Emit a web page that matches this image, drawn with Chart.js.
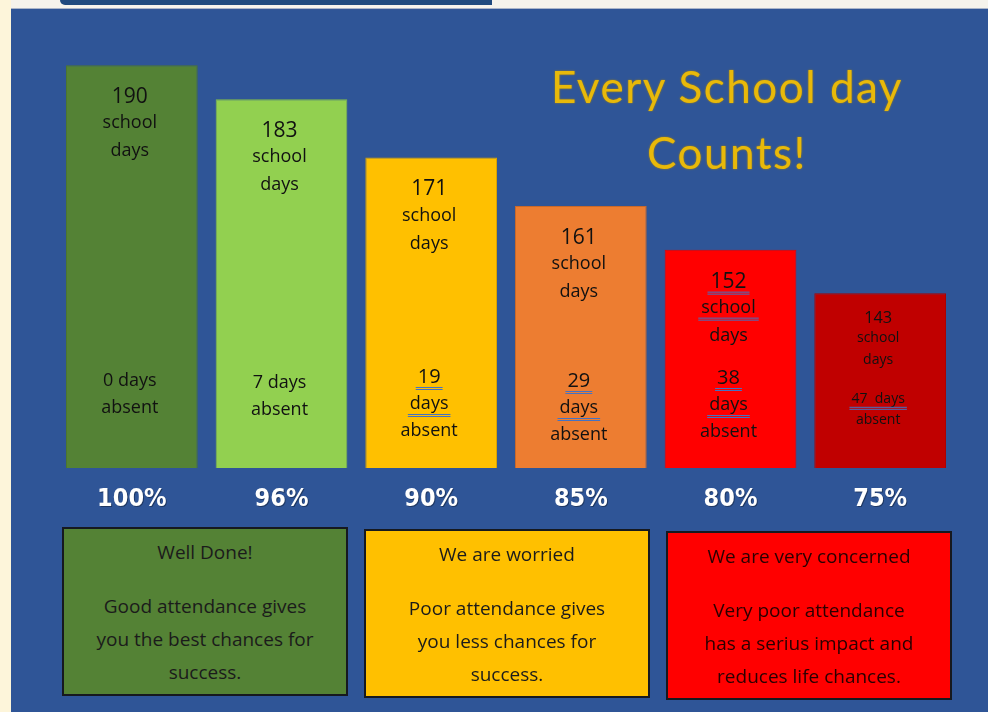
<!DOCTYPE html>
<html>
<head>
<meta charset="utf-8">
<script src="https://cdn.jsdelivr.net/npm/chart.js@4"></script>
<style>
  body { margin: 0; width: 988px; height: 712px; overflow: hidden; background: #fdf5da; position: relative; }
  .strip { position: absolute; left: 11px; top: 0; width: 977px; height: 8px; background: #f5f3ec; border-bottom: 1px solid #aab5c9; }
  .tab { position: absolute; left: 60px; top: 0; width: 432px; height: 5px; background: #1f4a7f; border-bottom-left-radius: 6px; }
  .panel { position: absolute; left: 11px; top: 9px; width: 977px; height: 703px; background: #2f5597; }
  #wrap { position: absolute; left: 0; top: 0; width: 988px; height: 712px; }
  .title { position: absolute; left: 527px; width: 400px; text-align: center; color: #e8b90a;
           font-family: Lato, "Open Sans", sans-serif; font-size: 44px; letter-spacing: 1.5px;
           text-shadow: 0 0 2px #b38a00; }
  .box { position: absolute; width: 282px; height: 165px; border: 2px solid #16191f; text-align: center;
         font-family: "Open Sans", sans-serif; font-size: 19px; color: #1b1b1b; }
  .box .head { position: absolute; left: 0; right: 0; top: 10px; }
  .box .body { position: absolute; left: 0; right: 0; top: 61px; line-height: 33px; }
</style>
</head>
<body>
<div class="panel"></div>
<div class="strip"></div>
<div class="tab"></div>
<div id="wrap"><canvas id="chart"></canvas></div>
<div class="title" style="top:60px">Every School day</div>
<div class="title" style="top:126px">Counts!</div>
<div id="boxes"></div>
<script>
// chart values
var percentages = ["100%", "96%", "90%", "85%", "80%", "75%"];
var schoolDays = [190, 183, 171, 161, 152, 143];
var absentText = ["0 days\nabsent", "7 days\nabsent", "19\ndays\nabsent", "29\ndays\nabsent", "38\ndays\nabsent", "47  days\nabsent"];
var boxHeads = ["Well Done!", "We are worried", "We are very concerned"];
var boxBodies = [
  "Good attendance gives\nyou the best chances for\nsuccess.",
  "Poor attendance gives\nyou less chances for\nsuccess.",
  "Very poor attendance\nhas a serius impact and\nreduces life chances."
];

// styling
var barColors = ["#548235", "#92d050", "#ffc000", "#ed7d31", "#ff0000", "#c00000"];
var barEdges = ["#4c7530", "#84bc48", "#d9a300", "#c9692a", "#e60000", "#ad0000"];
var boxColors = ["#548235", "#ffc000", "#ff0000"];
var boxTextColors = ["#1b1b1b", "#1b1b1b", "#2a0000"];
var boxLeft = [62, 364, 666];
var boxTop = [527, 529, 531];
var labelScale = [1, 1, 1, 1, 1, 0.78];
var bottomStart = [381, 383, 377, 381, 378, 399];
var topMarks = [[], [], [], [], [0, 1], []];
var bottomMarks = [[], [], [0, 1], [0, 1], [0, 1], [0]];

var boxes = document.getElementById("boxes");
boxHeads.forEach(function (h, i) {
  var d = document.createElement("div");
  d.className = "box";
  d.style.left = boxLeft[i] + "px";
  d.style.top = boxTop[i] + "px";
  d.style.background = boxColors[i];
  d.style.color = boxTextColors[i];
  d.innerHTML = '<div class="head">' + h + '</div><div class="body">' +
    boxBodies[i].split("\n").join("<br>") + "</div>";
  boxes.appendChild(d);
});

function markLine(ctx, x, y, w) {
  ctx.save();
  ctx.strokeStyle = "#4472c4";
  ctx.lineWidth = 1;
  ctx.beginPath();
  ctx.moveTo(x - w / 2, y + 0.5);
  ctx.lineTo(x + w / 2, y + 0.5);
  ctx.moveTo(x - w / 2, y + 2.5);
  ctx.lineTo(x + w / 2, y + 2.5);
  ctx.stroke();
  ctx.restore();
}

var barText = {
  id: "barText",
  afterDatasetsDraw: function (chart) {
    var ctx = chart.ctx;
    var meta = chart.getDatasetMeta(0);
    ctx.save();
    ctx.textAlign = "center";
    ctx.textBaseline = "middle";
    meta.data.forEach(function (bar, i) {
      var s = labelScale[i];
      var x = bar.x - 2;
      ctx.fillStyle = "#111";
      var topLines = [String(schoolDays[i]), "school", "days"];
      topLines.forEach(function (t, k) {
        var y = bar.y + 32 * s + k * 28 * s - (k > 0 ? 2 : 0);
        ctx.font = (k === 0 ? 21 : 18) * s + "px 'Open Sans', sans-serif";
        ctx.fillText(t, x, y);
        if (topMarks[i].indexOf(k) >= 0) {
          markLine(ctx, x, y + 10, ctx.measureText(t).width + 6);
        }
      });
      var lines = absentText[i].split("\n");
      lines.forEach(function (t, k) {
        var y = bottomStart[i] + k * 27 * s;
        ctx.font = (/^\d/.test(t) && lines.length === 3 ? 20 : 18) * s + "px 'Open Sans', sans-serif";
        ctx.fillText(t, x, y);
        if (bottomMarks[i].indexOf(k) >= 0) {
          markLine(ctx, x, y + 10 * s, ctx.measureText(t).width + 4);
        }
      });
      // percent label under the bar
      ctx.fillStyle = "#ffffff";
      ctx.font = "bold 25px 'DejaVu Sans Condensed', 'DejaVu Sans', sans-serif";
      ctx.shadowColor = "rgba(0,0,0,0.35)";
      ctx.shadowOffsetX = 1;
      ctx.shadowOffsetY = 1;
      ctx.fillText(percentages[i], bar.x, 499);
      ctx.shadowColor = "transparent";
    });
    ctx.restore();
  },
};

new Chart("chart", {
  type: "bar",
  data: {
    labels: percentages,
    datasets: [
      {
        data: schoolDays,
        backgroundColor: barColors,
        borderColor: barEdges,
        borderWidth: 1,
        borderSkipped: false,
        barPercentage: 0.88,
        categoryPercentage: 1,
      },
    ],
  },
  options: {
    responsive: true,
    maintainAspectRatio: false,
    animation: false,
    events: [],
    layout: { padding: { left: 57, right: 33, top: 40, bottom: 244 } },
    plugins: { legend: { display: false }, tooltip: { enabled: false } },
    scales: {
      x: { display: false },
      y: { display: false, min: 107, max: 195.2 },
    },
  },
  plugins: [barText],
});
</script>
</body>
</html>
